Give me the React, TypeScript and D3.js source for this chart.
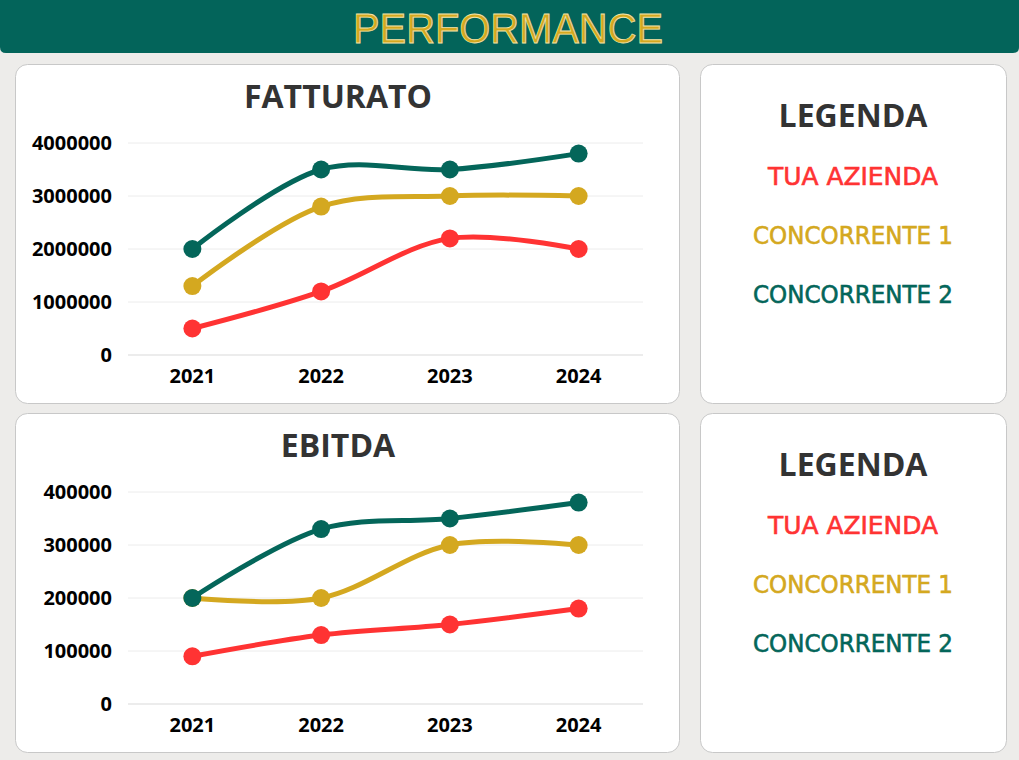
import React from "react";
import * as d3 from "d3";

const years = ["2021", "2022", "2023", "2024"];
const seriesNames = ["TUA AZIENDA", "CONCORRENTE 1", "CONCORRENTE 2"];
const seriesColors = ["#ff3333", "#d4a820", "#04665a"];

const fatturatoTua = [500000, 1200000, 2200000, 2000000];
const fatturatoC1 = [1300000, 2800000, 3000000, 3000000];
const fatturatoC2 = [2000000, 3500000, 3500000, 3800000];
const fatturatoTicks = [0, 1000000, 2000000, 3000000, 4000000];

const ebitdaTua = [90000, 130000, 150000, 180000];
const ebitdaC1 = [200000, 200000, 300000, 300000];
const ebitdaC2 = [200000, 330000, 350000, 380000];
const ebitdaTicks = [0, 100000, 200000, 300000, 400000];

const FONT = "'Open Sans', 'Noto Sans', sans-serif";
const LEG_FONT = "'DejaVu Sans', sans-serif";

type ChartProps = {
  top: number;
  title: string;
  series: number[][];
  ticks: number[];
};

function ChartPanel({ top, title, series, ticks }: ChartProps) {
  const x = d3.scalePoint<string>().domain(years).range([128, 643]).padding(0.5);
  const yBase = top + 291;
  const yTop = top + 79;
  const y = d3.scaleLinear().domain([0, ticks[ticks.length - 1]]).range([yBase, yTop]);
  const line = d3
    .line<number>()
    .x((_, i) => x(years[i]) as number)
    .y((d) => y(d))
    .curve(d3.curveCatmullRom.alpha(0.5));
  return (
    <g>
      <rect x={15.5} y={top + 0.5} width={664} height={339} rx={12} fill="#fff" stroke="#c8c8c8" />
      <text x={338} y={top + 44} textAnchor="middle" fontFamily={FONT} fontWeight={700} fontSize={32} fill="#333">
        {title}
      </text>
      {ticks.map((t) => (
        <g key={t}>
          <line x1={128} x2={643} y1={y(t)} y2={y(t)} stroke={t === 0 ? "#d9d9d9" : "#ececec"} strokeWidth={1} />
          <text x={112} y={y(t)} dy="0.35em" textAnchor="end" fontFamily={FONT} fontWeight={700} fontSize={20} fill="#000">
            {t}
          </text>
        </g>
      ))}
      {years.map((yr) => (
        <text key={yr} x={x(yr)} y={yBase + 28} textAnchor="middle" fontFamily={FONT} fontWeight={700} fontSize={20} fill="#000">
          {yr}
        </text>
      ))}
      {series.map((s, si) => (
        <g key={si}>
          <path d={line(s) || ""} fill="none" stroke={seriesColors[si]} strokeWidth={5} strokeLinecap="round" />
          {s.map((v, i) => (
            <circle key={i} cx={x(years[i])} cy={y(v)} r={9} fill={seriesColors[si]} />
          ))}
        </g>
      ))}
    </g>
  );
}

function LegendPanel({ top }: { top: number }) {
  return (
    <g>
      <rect x={700.5} y={top + 0.5} width={306} height={339} rx={12} fill="#fff" stroke="#c8c8c8" />
      <text x={853} y={top + 63} textAnchor="middle" fontFamily={FONT} fontWeight={700} fontSize={32} fill="#333">
        LEGENDA
      </text>
      {seriesNames.map((n, i) => (
        <text
          key={n}
          x={853}
          y={top + 121 + i * 59}
          textAnchor="middle"
          fontFamily={LEG_FONT}
          fontWeight={400}
          fontSize={24}
          fill={seriesColors[i]}
          stroke={seriesColors[i]}
          strokeWidth={0.6}
          textLength={i === 0 ? 170 : 200}
          lengthAdjust="spacingAndGlyphs"
        >
          {n}
        </text>
      ))}
    </g>
  );
}

export default function App() {
  return (
    <svg width={1019} height={760} style={{ position: "absolute", left: 0, top: 0, display: "block" }}>
      <rect x={0} y={0} width={1019} height={760} fill="#edecea" />
      <path d="M0,0 H1019 V47 Q1019,53 1013,53 H6 Q0,53 0,47 Z" fill="#03645a" />
      <text
        x={508}
        y={43}
        textAnchor="middle"
        fontFamily="'Liberation Sans Narrow', 'Liberation Sans', Arial, sans-serif"
        fontSize={42}
        fill="#d4a820"
        stroke="#f3e3a6"
        strokeWidth={0.8}
        textLength={310}
        lengthAdjust="spacingAndGlyphs"
      >
        PERFORMANCE
      </text>
      <ChartPanel top={64} title="FATTURATO" series={[fatturatoTua, fatturatoC1, fatturatoC2]} ticks={fatturatoTicks} />
      <LegendPanel top={64} />
      <ChartPanel top={413} title="EBITDA" series={[ebitdaTua, ebitdaC1, ebitdaC2]} ticks={ebitdaTicks} />
      <LegendPanel top={413} />
    </svg>
  );
}
